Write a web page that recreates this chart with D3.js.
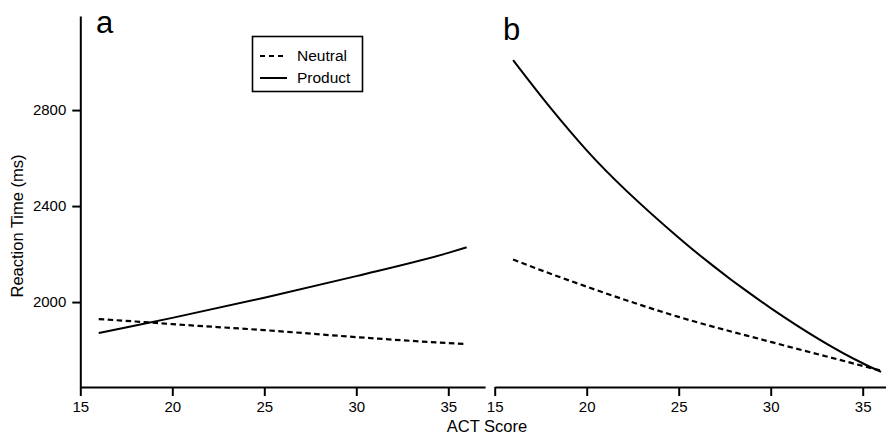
<!DOCTYPE html>
<html>
<head>
<meta charset="utf-8">
<script src="https://cdn.jsdelivr.net/npm/d3@7/dist/d3.min.js"></script>
<style>
  body { margin: 0; background: #fff; }
  text { font-family: "Liberation Sans", Arial, sans-serif; fill: #000; }
</style>
</head>
<body>
<svg id="chart" width="886" height="436"></svg>
<script>
// ACT scores sampled along the fitted curves
const actScores = [16, 18, 20, 25, 30, 35, 36];

// panel a
const neutralA = [1929, 1919, 1908, 1883, 1854, 1829, 1825];
const productA = [1871, 1902, 1934, 2018, 2108, 2205, 2228];

// panel b
const neutralB = [2177, 2119, 2064, 1938, 1834, 1734, 1714];
const productB = [3008, 2812, 2632, 2268, 1975, 1745, 1709];

const yTicks = [2000, 2400, 2800];
const xTicks = [15, 20, 25, 30, 35];
const seriesNames = ["Neutral", "Product"];

const svg = d3.select("#chart");
const axisY = 387;

const y = d3.scaleLinear().domain([1646, 3192]).range([axisY, 16]);

const panels = [
  { label: "a", left: 80.3, neutral: neutralA, product: productA, yAxis: true, labelX: 96, labelY: 33 },
  { label: "b", left: 494.7, neutral: neutralB, product: productB, yAxis: false, labelX: 503, labelY: 40 }
];

const dashStyle = "5.5,3.5";

panels.forEach(p => {
  const x = d3.scaleLinear().domain([15, 37]).range([p.left, p.left + 22 * 18.4]);
  const g = svg.append("g");

  // x axis
  const xa = g.append("g")
    .attr("transform", `translate(0,${axisY})`)
    .call(d3.axisBottom(x).tickValues(xTicks).tickSize(9).tickSizeOuter(0).tickPadding(5));
  xa.select(".domain").attr("stroke-width", 2);
  xa.selectAll(".tick line").attr("stroke-width", 2);
  xa.selectAll(".tick text").style("font-size", "15px").attr("fill", "#000");

  if (p.yAxis) {
    const ya = g.append("g")
      .attr("transform", `translate(${p.left},0)`)
      .call(d3.axisLeft(y).tickValues(yTicks).tickFormat(d3.format("d"))
        .tickSize(8).tickSizeOuter(0).tickPadding(6));
    ya.select(".domain").attr("stroke-width", 2);
    ya.selectAll(".tick line").attr("stroke-width", 2);
    ya.selectAll(".tick text").style("font-size", "15px").attr("fill", "#000");
  }

  const line = vals => d3.line()
    .x((d, i) => x(actScores[i]))
    .y(d => y(d))
    .curve(d3.curveMonotoneX)(vals);

  g.append("path")
    .attr("d", line(p.neutral))
    .attr("fill", "none")
    .attr("stroke", "#000")
    .attr("stroke-width", 2.2)
    .attr("stroke-dasharray", dashStyle);

  g.append("path")
    .attr("d", line(p.product))
    .attr("fill", "none")
    .attr("stroke", "#000")
    .attr("stroke-width", 2);

  g.append("text")
    .attr("x", p.labelX)
    .attr("y", p.labelY)
    .style("font-size", "31px")
    .text(p.label);
});

// axis titles
svg.append("text")
  .attr("x", 487)
  .attr("y", 432)
  .attr("text-anchor", "middle")
  .style("font-size", "16.5px")
  .text("ACT Score");

svg.append("text")
  .attr("transform", "translate(23,226) rotate(-90)")
  .attr("text-anchor", "middle")
  .style("font-size", "16.5px")
  .text("Reaction Time (ms)");

// legend
const legend = svg.append("g");
legend.append("rect")
  .attr("x", 252.5)
  .attr("y", 36.5)
  .attr("width", 110)
  .attr("height", 55)
  .attr("fill", "#fff")
  .attr("stroke", "#000")
  .attr("stroke-width", 1.6);

seriesNames.forEach((name, i) => {
  const ly = 56 + i * 22;
  legend.append("line")
    .attr("x1", 260).attr("x2", i === 0 ? 284 : 287)
    .attr("y1", ly).attr("y2", ly)
    .attr("stroke", "#000")
    .attr("stroke-width", 2)
    .attr("stroke-dasharray", i === 0 ? "5,4" : null);
  legend.append("text")
    .attr("x", 297)
    .attr("y", ly + 5)
    .style("font-size", "15.5px")
    .text(name);
});
</script>
</body>
</html>
